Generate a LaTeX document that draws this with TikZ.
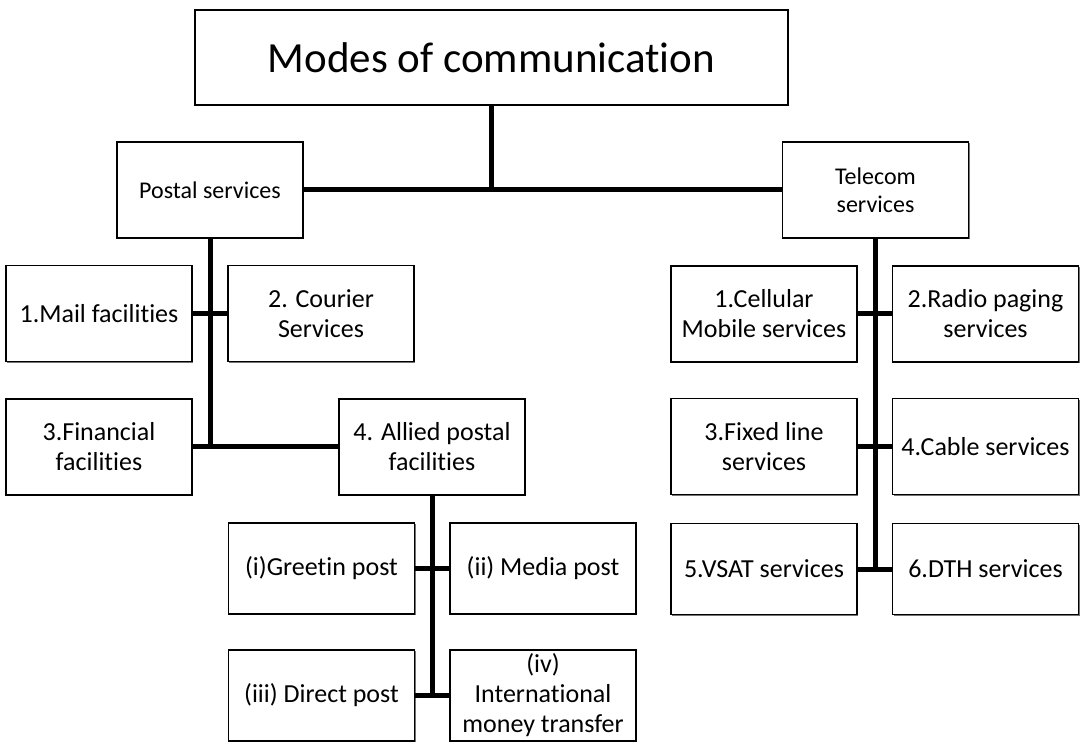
\documentclass[tikz,border=0pt]{standalone}
\usepackage{fontspec}
\setmainfont{Carlito}[Ligatures=NoCommon]
\usetikzlibrary{shadows}

\begin{document}
\begin{tikzpicture}[x=1pt, y=-1pt, box/.style={rectangle, draw, line width=1.2pt, fill=white, align=center, minimum width=186pt, minimum height=96pt, inner sep=2pt, font=\fontsize{26}{30}\selectfont, drop shadow={shadow xshift=1.2pt, shadow yshift=-1.2pt, fill=black!55, opacity=1}}, sbox/.style={box, minimum height=91pt}, bus/.style={line width=5pt}]
  \useasboundingbox (0,0) rectangle (1080,743);
  % top levels
  \node[box, minimum width=593pt, minimum height=95pt, font=\fontsize{43}{50}\selectfont] (modes) at (491.5,57.5) {Modes of communication};
  \node[box, font=\fontsize{24}{28}\selectfont] (postal) at (210,190) {Postal services};
  \node[box, font=\fontsize{24}{28}\selectfont] (telecom) at (875.5,190) {Telecom\\services};
  % postal side
  \node[box] (mail) at (99,313.5) {1.Mail facilities};
  \node[box] (courier) at (321,313.5) {2. Courier\\Services};
  \node[box] (financial) at (99,447) {3.Financial\\facilities};
  \node[box] (allied) at (432,447) {4. Allied postal\\facilities};
  \node[sbox] (greetin) at (321.5,568.5) {(i)Greetin post};
  \node[sbox] (media) at (543,568.5) {(ii) Media post};
  \node[sbox] (direct) at (321.5,695.5) {(iii) Direct post};
  \node[sbox] (intl) at (543,695.5) {(iv)\\International\\money transfer};
  % telecom side
  \node[box] (cellular) at (764,314) {1.Cellular\\Mobile services};
  \node[box] (radio) at (985.5,314) {2.Radio paging\\services};
  \node[box] (fixed) at (764,446.5) {3.Fixed line\\services};
  \node[box] (cable) at (985.5,446.5) {4.Cable services};
  \node[sbox] (vsat) at (764,569) {5.VSAT services};
  \node[sbox] (dth) at (985.5,569) {6.DTH services};
  % connectors
  \draw[bus] (modes.south) -- (modes.south |- postal.east);
  \draw[bus] (postal.east) -- (telecom.west);
  \draw[bus] (postal.south) -- (postal.south |- financial.east);
  \draw[bus] (mail.east) -- (courier.west);
  \draw[bus] (financial.east) -- (allied.west);
  \draw[bus] (allied.south) -- (allied.south |- direct.east);
  \draw[bus] (greetin.east) -- (media.west);
  \draw[bus] (direct.east) -- (intl.west);
  \draw[bus] (telecom.south) -- (telecom.south |- vsat.east);
  \draw[bus] (cellular.east) -- (radio.west);
  \draw[bus] (fixed.east) -- (cable.west);
  \draw[bus] (vsat.east) -- (dth.west);
\end{tikzpicture}
\end{document}
